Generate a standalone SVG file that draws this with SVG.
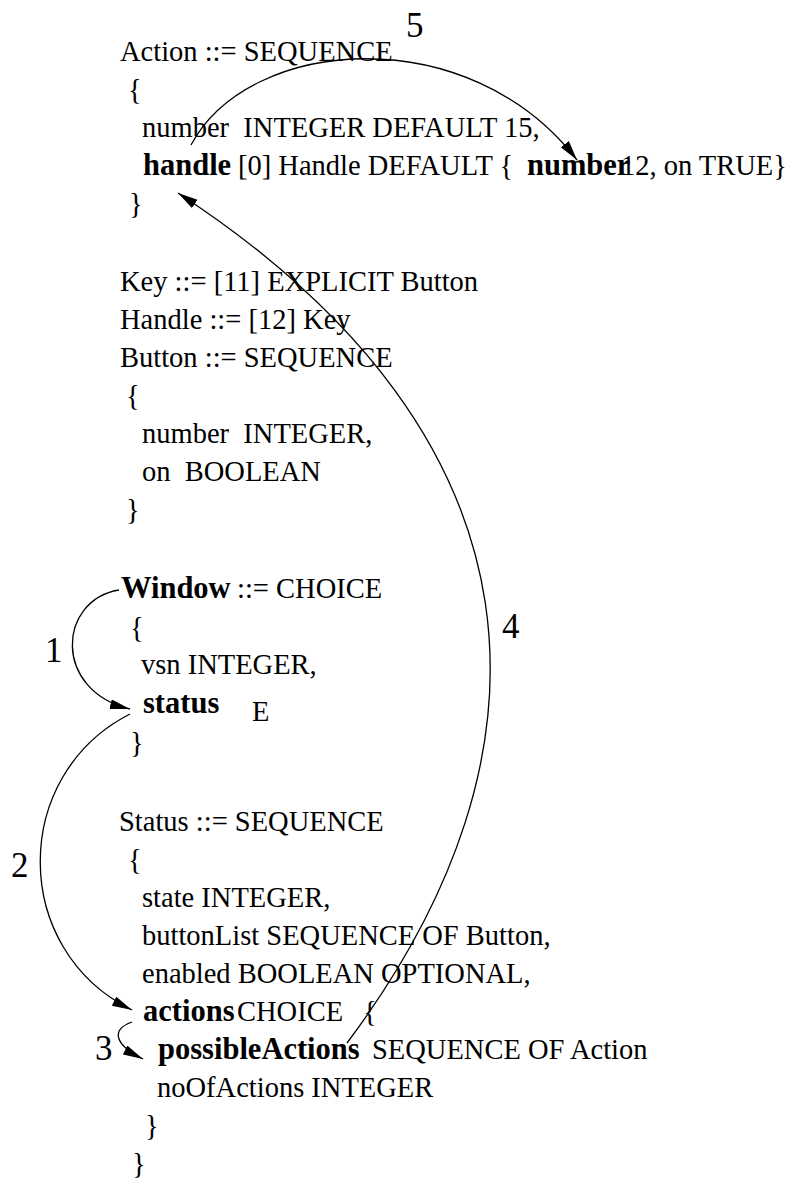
<svg xmlns="http://www.w3.org/2000/svg" width="791" height="1181" viewBox="0 0 791 1181">
<style>
text{font-family:"Liberation Serif","Times New Roman",serif;font-size:28.5px;fill:#000;white-space:pre}
.b{font-weight:bold;font-size:30.5px}
.lbl{font-size:35px}
.c{fill:none;stroke:#000;stroke-width:1.3}
</style>
<defs>
<marker id="ah" markerUnits="userSpaceOnUse" markerWidth="22" markerHeight="12" refX="20" refY="5" orient="auto">
<path d="M0,0 L20,5 L0,10 Z" fill="#000"/>
</marker>
</defs>
<rect width="791" height="1181" fill="#fff"/>
<g id="action">
<text x="120" y="61">Action ::= SEQUENCE</text>
<text x="128" y="99">{</text>
<text x="142" y="137">number  INTEGER DEFAULT 15,</text>
<text x="143" y="175" class="b">handle</text>
<text x="238" y="175">[0] Handle DEFAULT {</text>
<text x="527" y="175" class="b">number</text>
<text x="621" y="175">12, on TRUE}</text>
<text x="129" y="213">}</text>
</g>
<g id="key">
<text x="120" y="291">Key ::= [11] EXPLICIT Button</text>
</g>
<g id="handle">
<text x="120" y="329">Handle ::= [12] Key</text>
</g>
<g id="button">
<text x="120" y="367">Button ::= SEQUENCE</text>
<text x="126" y="405">{</text>
<text x="142" y="443">number  INTEGER,</text>
<text x="142" y="481">on  BOOLEAN</text>
<text x="126" y="519">}</text>
</g>
<g id="window">
<text x="121" y="598" class="b">Window</text>
<text x="237" y="598">::= CHOICE</text>
<text x="130" y="637">{</text>
<text x="141" y="674">vsn INTEGER,</text>
<text x="143" y="713" class="b">status</text>
<text x="252" y="721">E</text>
<text x="130" y="752">}</text>
</g>
<g id="status">
<text x="119" y="831">Status ::= SEQUENCE</text>
<text x="128" y="869">{</text>
<text x="142" y="907">state INTEGER,</text>
<text x="142" y="945">buttonList SEQUENCE OF Button,</text>
<text x="142" y="983">enabled BOOLEAN OPTIONAL,</text>
<text x="143" y="1021" class="b">actions</text>
<text x="237" y="1021">CHOICE</text>
<text x="363" y="1021">{</text>
<text x="158" y="1059" class="b">possibleActions</text>
<text x="372" y="1059">SEQUENCE OF Action</text>
<text x="157" y="1097">noOfActions INTEGER</text>
<text x="145" y="1135">}</text>
<text x="132" y="1173">}</text>
</g>
<g id="connectors">
<path class="c" d="M119,590 C58,600 52,690 130,709" marker-end="url(#ah)"/>
<path class="c" d="M130,714 C10,775 10,950 132,1010" marker-end="url(#ah)"/>
<path class="c" d="M132,1022 C110,1030 115,1045 143,1059" marker-end="url(#ah)"/>
<path class="c" d="M347,1043 C563,755 556,440 178,193" marker-end="url(#ah)"/>
<path class="c" d="M191,145 C250,35 470,20 577,160" marker-end="url(#ah)"/>
</g>
<g id="labels">
<text class="lbl" x="45" y="662">1</text>
<text class="lbl" x="11" y="877">2</text>
<text class="lbl" x="95" y="1060">3</text>
<text class="lbl" x="502" y="638">4</text>
<text class="lbl" x="406" y="37">5</text>
</g>
</svg>
